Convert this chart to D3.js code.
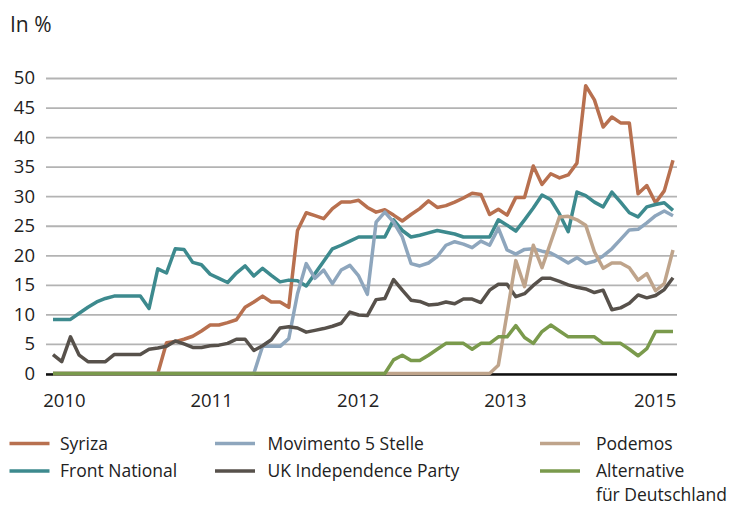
<!DOCTYPE html>
<html>
<head>
<meta charset="utf-8">
<script src="https://cdn.jsdelivr.net/npm/d3@7"></script>
<style>
  html, body { margin: 0; padding: 0; background: #fff; }
  svg { display: block; font-family: "Open Sans", "Noto Sans", sans-serif; }
</style>
</head>
<body>
<svg id="chart" width="733" height="505"></svg>
<script>
// ---- data (72 observations, evenly spaced) ----
const xTickLabels = ["2010", "2011", "2012", "2013", "2015"];
const xTickIndex = [1.25, 18.1, 34.9, 51.75, 68.9];
const yTicks = [0, 5, 10, 15, 20, 25, 30, 35, 40, 45, 50];

const seriesNames = ["Syriza", "Movimento 5 Stelle", "Podemos", "Front National", "UK Independence Party", "Alternative für Deutschland"];

const syriza = [0,0,0,0,0,0,0,0,0,0,0,0,0,5.2,5.4,5.8,6.3,7.2,8.2,8.2,8.6,9.1,11.2,12.1,13.1,12.1,12.1,11.2,24.2,27.2,26.7,26.2,27.9,29.0,29.0,29.3,28.1,27.3,27.7,26.8,25.8,26.9,27.9,29.2,28.1,28.4,29.0,29.7,30.5,30.3,26.9,27.8,26.8,29.8,29.8,35.1,32.0,33.8,33.1,33.6,35.6,48.7,46.3,41.7,43.4,42.4,42.4,30.4,31.8,28.9,30.9,36.1];
const frontNational = [9.15,9.15,9.15,10.2,11.2,12.1,12.7,13.1,13.1,13.1,13.1,11.0,17.7,17.0,21.1,21.0,18.8,18.4,16.8,16.1,15.4,17.0,18.2,16.5,17.8,16.6,15.5,15.8,15.7,14.8,16.9,19.0,21.1,21.7,22.4,23.1,23.1,23.1,23.1,26.0,24.2,23.1,23.4,23.8,24.2,23.9,23.6,23.1,23.1,23.1,23.1,26.0,25.1,24.1,26.0,28.0,30.2,29.4,27.0,24.0,30.7,30.1,29.0,28.2,30.7,29.0,27.2,26.5,28.2,28.6,28.9,27.6];
const movimento5Stelle = [0,0,0,0,0,0,0,0,0,0,0,0,0,0,0,0,0,0,0,0,0,0,0,0,4.6,4.6,4.6,5.9,13.5,18.6,16.1,17.5,15.2,17.5,18.3,16.5,13.4,25.6,27.3,25.6,23.1,18.6,18.2,18.7,19.8,21.7,22.3,21.9,21.3,22.4,21.7,24.6,20.9,20.2,21.0,21.1,20.7,20.4,19.6,18.7,19.6,18.6,19.0,19.9,21.1,22.7,24.3,24.4,25.5,26.7,27.5,26.7];
const ukip = [3.2,2.0,6.2,3.1,2.0,2.0,2.0,3.2,3.2,3.2,3.2,4.1,4.3,4.6,5.5,5.0,4.4,4.4,4.7,4.8,5.1,5.8,5.8,3.9,4.7,5.7,7.7,7.9,7.7,7.0,7.3,7.6,8.0,8.5,10.4,9.9,9.8,12.5,12.7,15.9,14.1,12.4,12.2,11.6,11.7,12.1,11.8,12.6,12.6,12.0,14.1,15.1,15.1,13.0,13.5,14.9,16.1,16.1,15.6,15.0,14.6,14.3,13.7,14.1,10.8,11.1,11.9,13.3,12.8,13.2,14.2,16.2];
const podemos = [0,0,0,0,0,0,0,0,0,0,0,0,0,0,0,0,0,0,0,0,0,0,0,0,0,0,0,0,0,0,0,0,0,0,0,0,0,0,0,0,0,0,0,0,0,0,0,0,0,0,0,1.4,10.2,19.1,14.7,21.7,17.9,22.2,26.5,26.6,26.0,25.1,20.6,17.8,18.7,18.7,17.9,15.8,16.9,14.0,15.2,20.9];
const afd = [0,0,0,0,0,0,0,0,0,0,0,0,0,0,0,0,0,0,0,0,0,0,0,0,0,0,0,0,0,0,0,0,0,0,0,0,0,0,0,2.3,3.1,2.2,2.2,3.1,4.1,5.1,5.1,5.1,4.1,5.1,5.1,6.2,6.2,8.1,6.1,5.1,7.1,8.2,7.2,6.2,6.2,6.2,6.2,5.1,5.1,5.1,4.1,3.0,4.2,7.1,7.1,7.1];

// ---- styling ----
const colors = {
  "Syriza": "#b8704f",
  "Movimento 5 Stelle": "#8ea6bd",
  "Podemos": "#bfa48b",
  "Front National": "#3d8a8e",
  "UK Independence Party": "#57514b",
  "Alternative für Deutschland": "#7a9a4c"
};
const valuesByName = {
  "Syriza": syriza,
  "Movimento 5 Stelle": movimento5Stelle,
  "Podemos": podemos,
  "Front National": frontNational,
  "UK Independence Party": ukip,
  "Alternative für Deutschland": afd
};
const drawOrder = ["Syriza", "Front National", "Movimento 5 Stelle", "UK Independence Party", "Podemos", "Alternative für Deutschland"];

const svg = d3.select("#chart");
const n = syriza.length;
const x = d3.scaleLinear().domain([0, n - 1]).range([53, 673]);
const y = d3.scaleLinear().domain([0, 50]).range([373.5, 78]);
const gridLeft = 46, gridRight = 677;

// unit label
svg.append("text").attr("x", 10).attr("y", 32).attr("font-size", 21).attr("fill", "#222").text("In %");

// y axis with gridlines
const yAxis = svg.append("g")
  .attr("transform", `translate(${gridLeft},0)`)
  .call(d3.axisLeft(y).tickValues(yTicks).tickSize(-(gridRight - gridLeft)).tickPadding(11).tickFormat(d3.format("d")));
yAxis.select(".domain").remove();
yAxis.selectAll(".tick line").attr("stroke", "#b3b3b3").attr("stroke-width", 1.8);
yAxis.selectAll(".tick text").attr("font-size", 18.5).attr("fill", "#222").attr("font-family", "Open Sans, sans-serif");

// base axis line
svg.append("line").attr("x1", gridLeft).attr("x2", gridRight)
  .attr("y1", y(0) + 1).attr("y2", y(0) + 1)
  .attr("stroke", "#111").attr("stroke-width", 2.5);

// x axis labels
const xAxis = svg.append("g")
  .attr("transform", `translate(0,${y(0)})`)
  .call(d3.axisBottom(x).tickValues(xTickIndex).tickSize(0).tickPadding(20)
    .tickFormat((d, i) => xTickLabels[i]));
xAxis.select(".domain").remove();
xAxis.selectAll(".tick text").attr("font-size", 18.5).attr("fill", "#222").attr("font-family", "Open Sans, sans-serif");

// lines
const line = d3.line().x((d, i) => x(i)).y(d => y(d)).curve(d3.curveLinear);
drawOrder.forEach(name => {
  svg.append("path")
    .datum(valuesByName[name])
    .attr("d", line)
    .attr("fill", "none")
    .attr("stroke", colors[name])
    .attr("stroke-width", 3.5)
    .attr("stroke-linejoin", "round")
    .attr("stroke-linecap", "butt");
});

// legend
const legendCols = [9.5, 215, 540];
const legendTextX = [60, 267.5, 596];
const legendRows = [443.5, 471];
const legend = svg.append("g");
seriesNames.forEach((name, k) => {
  const col = k % 3, row = Math.floor(k / 3);
  const lx = legendCols[col], ly = legendRows[row], tx = legendTextX[col];
  legend.append("line").attr("x1", lx).attr("x2", lx + 40).attr("y1", ly).attr("y2", ly)
    .attr("stroke", colors[name]).attr("stroke-width", 3.6);
  const t = legend.append("text").attr("x", tx).attr("y", ly + 6)
    .attr("font-size", 17.5).attr("fill", "#222");
  if (name === "Alternative für Deutschland") {
    t.append("tspan").attr("x", tx).text("Alternative");
    t.append("tspan").attr("x", tx).attr("dy", 23.5).text("für Deutschland");
  } else {
    t.text(name);
  }
});
</script>
</body>
</html>
